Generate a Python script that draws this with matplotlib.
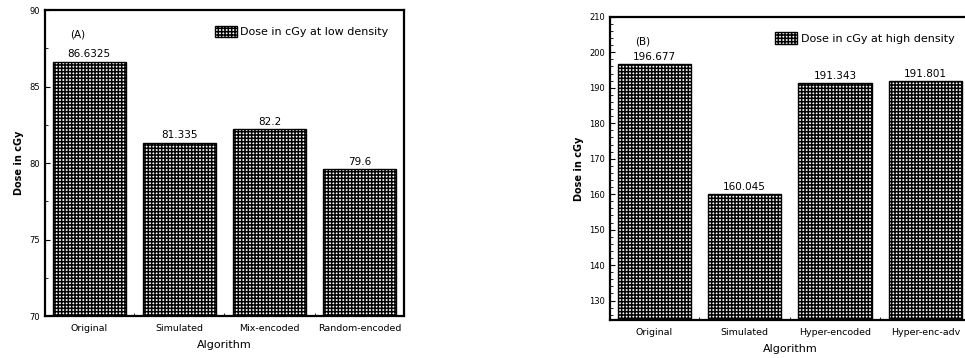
import matplotlib
matplotlib.use("Agg")
import matplotlib.pyplot as plt
from matplotlib.ticker import MultipleLocator

# ---- data ----
cats_a = ["Original", "Simulated", "Mix-encoded", "Random-encoded"]
vals_a = [86.6325, 81.335, 82.2, 79.6]
labels_a = ["86.6325", "81.335", "82.2", "79.6"]

cats_b = ["Original", "Simulated", "Hyper-encoded", "Hyper-enc-adv"]
vals_b = [196.677, 160.045, 191.343, 191.801]
labels_b = ["196.677", "160.045", "191.343", "191.801"]

legend_a = "Dose in cGy at low density"
legend_b = "Dose in cGy at high density"

plt.rcParams['font.family'] = ['DejaVu Sans']
plt.rcParams['hatch.linewidth'] = 1.1

fig = plt.figure(figsize=(9.65, 3.58), dpi=100)
ax1 = fig.add_axes([0.0466, 0.117, 0.372, 0.855])
ax2 = fig.add_axes([0.632, 0.106, 0.373, 0.847])


def draw(ax, cats, vals, labels, leg, ylim, major, minor, tag):
    x = list(range(len(cats)))
    ax.bar(x, vals, width=0.81, color="white", edgecolor="black",
           hatch="+++++", linewidth=1.0, label=leg)
    for xi, v, t in zip(x, vals, labels):
        ax.text(xi, v + (ylim[1] - ylim[0]) * 0.008, t, ha="center", va="bottom",
                fontsize=7.5)
    ax.set_ylim(*ylim)
    ax.set_xlim(-0.49, len(cats) - 0.51)
    ax.set_xticks(x)
    ax.set_xticklabels(cats, fontsize=6.8)
    ax.set_xticks([0.5, 1.5, 2.5], minor=True)
    ax.yaxis.set_major_locator(MultipleLocator(major))
    ax.yaxis.set_minor_locator(MultipleLocator(minor))
    ax.tick_params(axis="y", which="both", direction="in", labelsize=6)
    ax.tick_params(axis="x", which="both", direction="in", length=2)
    ax.tick_params(axis="x", which="major", length=0, pad=6)
    for s in ax.spines.values():
        s.set_linewidth(1.6)
    ax.set_ylabel("Dose in cGy", fontsize=7, fontweight="bold")
    ax.set_xlabel("Algorithm", fontsize=8, labelpad=5)
    ax.text(0.09, 0.91, tag, transform=ax.transAxes, fontsize=7.5, ha="center")
    ax.legend(loc="upper right", fontsize=8, frameon=False, handlelength=2.0,
              handleheight=1.2, handletextpad=0.3, borderaxespad=1.0)


draw(ax1, cats_a, vals_a, labels_a, legend_a, (70, 90), 5, 2.5, "(A)")
draw(ax2, cats_b, vals_b, labels_b, legend_b, (124.5, 210), 10, 2, "(B)")

fig.savefig("out.png", dpi=100)
